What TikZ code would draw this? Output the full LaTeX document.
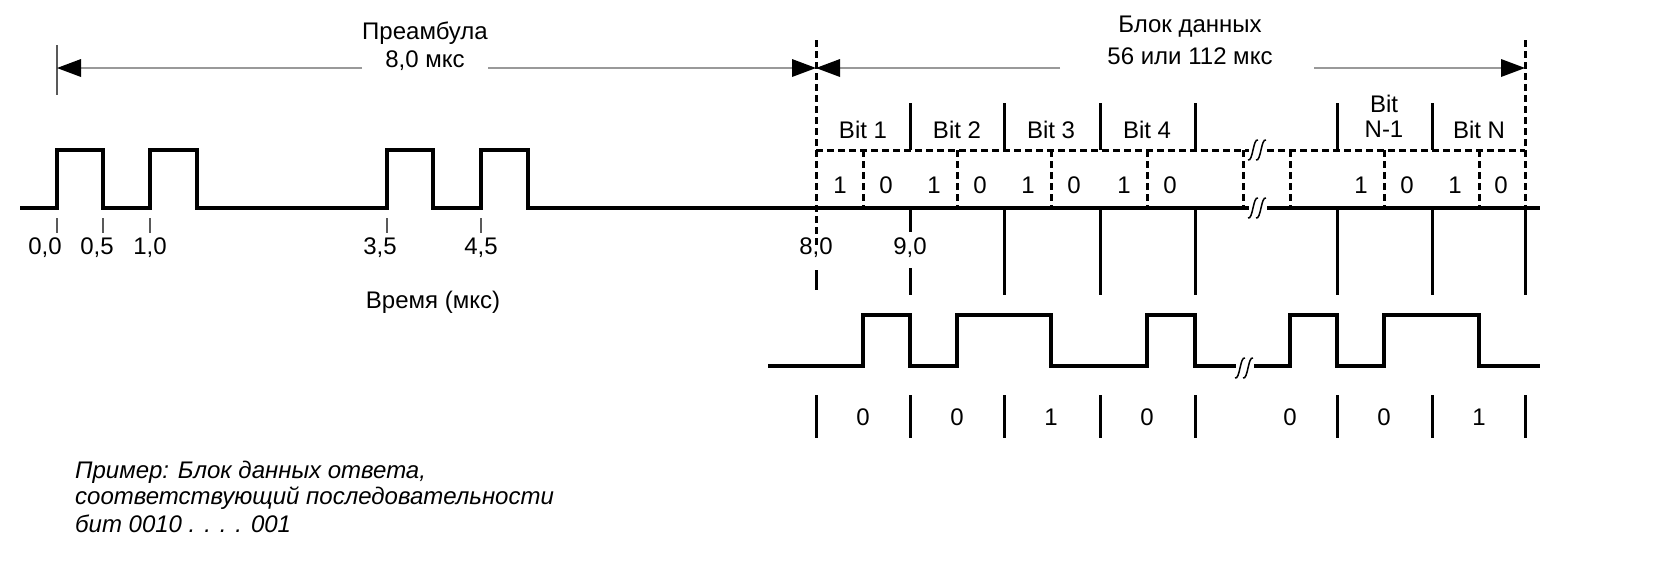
\documentclass[tikz,border=0pt]{standalone}
\usepackage{fontspec}
\setmainfont{Liberation Sans}
\usetikzlibrary{arrows.meta}
\begin{document}
\begin{tikzpicture}[x=1pt,y=-1pt,
  sig/.style={line width=3.2pt,line join=miter},
  bar/.style={line width=3pt},
  dsh/.style={line width=3pt,dash pattern=on 7pt off 4pt},
  tick/.style={line width=1.2pt,gray!70!black},
  dim/.style={line width=2.6pt,gray!80},
  lbl/.style={font=\fontsize{24}{28}\selectfont,inner sep=1pt},
  itl/.style={font=\fontsize{24}{28}\selectfont\itshape,anchor=west,inner sep=0pt},
  brk/.pic={\fill[white] (-9,-13) rectangle (9,13);
    \draw[line width=1.5pt] (-10,10) .. controls (-5,12) and (-5,-12) .. (0,-10);
    \draw[line width=1.5pt] (-2,10) .. controls (3,12) and (3,-12) .. (8,-10);}]
\useasboundingbox (0,0) rectangle (1660,587);
% dimension arrows
\draw[tick] (57,45) -- (57,95);
\node[lbl] (pre) at (425,33) {Преамбула};
\node[lbl] (pret) at (425,61) {8,0 мкс};
\draw[dim] (362,68) -- (70,68); \draw[dim] (488,68) -- (800,68);
\fill (57,68) -- (81,59) -- (81,77) -- cycle;
\fill (816,68) -- (792,59) -- (792,77) -- cycle;
\node[lbl] (blk) at (1190,27) {Блок данных};
\node[lbl] (blkt) at (1190,56) {56 или 112 мкс};
\draw[dim] (1060,68) -- (830,68); \draw[dim] (1314,68) -- (1510,68);
\fill (816,68) -- (840,59) -- (840,77) -- cycle;
\fill (1525,68) -- (1501,59) -- (1501,77) -- cycle;
% preamble waveform
\draw[sig] (20,208) -- (57,208) -- (57,150) -- (103,150) -- (103,208) -- (150,208) -- (150,150) -- (197,150) -- (197,208)
  -- (387,208) -- (387,150) -- (433,150) -- (433,208) -- (481,208) -- (481,150) -- (528,150) -- (528,208) -- (1540,208);
\foreach \x in {57,103,150,387,481} \draw[tick] (\x,218) -- (\x,233);
\foreach \x/\t in {45/{0,0},97/{0,5},150/{1,0},380/{3,5},481/{4,5},816/{8,0},910/{9,0}}
  \node[lbl] at (\x,248) {\t};
\node[lbl] (time) at (433,302) {Время (мкс)};
% data block frame
\draw[dsh] (816,40) -- (816,245); \draw[bar] (816,270) -- (816,290);
\draw[dsh] (1525,40) -- (1525,208); \draw[bar] (1525,208) -- (1525,295);
\draw[dsh] (816,150) -- (1525,150);
\foreach \x in {910,1004,1100,1195,1337,1432} \draw[bar] (\x,103) -- (\x,150);
\draw[bar] (910,208) -- (910,232); \draw[bar] (910,268) -- (910,295);
\foreach \x in {1004,1100,1195,1337,1432} \draw[bar] (\x,208) -- (\x,295);
\foreach \x in {863,957,1051,1147,1243,1290,1384,1479} \draw[dsh] (\x,150) -- (\x,208);
\foreach \x/\t in {863/Bit 1,957/Bit 2,1051/Bit 3,1147/Bit 4,1479/Bit N} \node[lbl] at (\x,130) {\t};
\node[lbl,align=center,font=\fontsize{24}{25}\selectfont] (bn1) at (1384,116) {Bit\\N-1};
\foreach \x/\t in {840/1,886/0,934/1,980/0,1028/1,1074/0,1124/1,1170/0,1361/1,1407/0,1455/1,1501/0}
  \node[lbl] at (\x,185) {\t};
\pic at (1258,150) {brk};
\pic at (1258,208) {brk};
% response waveform
\draw[sig] (768,366) -- (863,366) -- (863,315) -- (910,315) -- (910,366) -- (957,366) -- (957,315) -- (1051,315) -- (1051,366)
  -- (1147,366) -- (1147,315) -- (1195,315) -- (1195,366) -- (1290,366) -- (1290,315) -- (1337,315) -- (1337,366)
  -- (1384,366) -- (1384,315) -- (1479,315) -- (1479,366) -- (1540,366);
\pic at (1245,368) {brk};
% decoded bits
\foreach \x in {816,910,1004,1100,1195,1337,1432,1525} \draw[bar] (\x,395) -- (\x,438);
\foreach \x/\t in {863/0,957/0,1051/1,1147/0,1290/0,1384/0,1479/1} \node[lbl] at (\x,417) {\t};
% note
\node[itl] (n1) at (75,472) {Пример: Блок данных ответа,};
\node[itl] (n2) at (75,498) {соответствующий последовательности};
\node[itl] (n3) at (75,524) {бит 0010 . . . . 001};
\end{tikzpicture}
\end{document}
